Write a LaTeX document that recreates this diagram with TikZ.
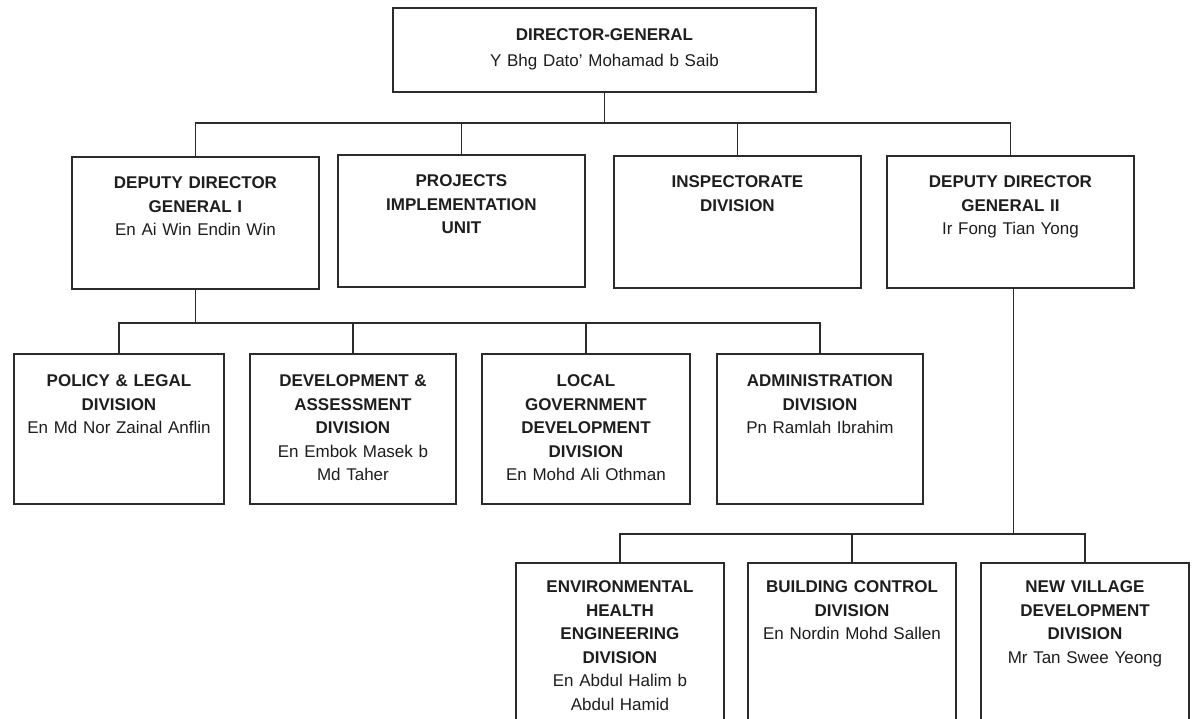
\documentclass[tikz,border=0pt]{standalone}
\usepackage{fontspec}
\usetikzlibrary{calc}
\setmainfont{Liberation Sans}
\definecolor{linecol}{HTML}{2B2B2B}
\definecolor{inkcol}{HTML}{1E1E1E}
\newcommand\hd[1]{\textbf{#1}}
\begin{document}
\begin{tikzpicture}[x=1pt, y=-1pt,
  unit/.style={draw=linecol, line width=1.9pt, fill=white, inner sep=0pt,
    anchor=north west, align=center, text=inkcol,
    font=\fontsize{17}{23.5}\selectfont},
  headbox/.style={unit, text width=423pt, text height=33pt, text depth=51pt,
    font=\fontsize{17}{26}\selectfont},
  toprow/.style={unit, text width=247pt, text height=32pt, text depth=100pt},
  divrow/.style={unit, text height=33pt, text depth=117pt},
  subrow/.style={unit, text width=208pt, text height=30pt, text depth=200pt},
  link/.style={draw=linecol, line width=1.6pt}
]
\fill[white] (0,0) rectangle (1192,718);
\clip (0,0) rectangle (1192,718);

% director-general
\node[headbox] (dg) at (392,7) {\hd{DIRECTOR-GENERAL}\\Y Bhg Dato' Mohamad b Saib};

% first level
\node[toprow] (ddg1) at (71,156)  {\hd{DEPUTY DIRECTOR}\\\hd{GENERAL I}\\En Ai Win Endin Win};
\node[toprow] (piu)  at (337,154) {\hd{PROJECTS}\\\hd{IMPLEMENTATION}\\\hd{UNIT}};
\node[toprow] (insp) at (613,155) {\hd{INSPECTORATE}\\\hd{DIVISION}};
\node[toprow] (ddg2) at (886,155) {\hd{DEPUTY DIRECTOR}\\\hd{GENERAL II}\\Ir Fong Tian Yong};

% divisions under DDG I
\node[divrow, text width=210pt] (policy) at (13,353)  {\hd{POLICY \& LEGAL}\\\hd{DIVISION}\\En Md Nor Zainal Anflin};
\node[divrow, text width=206pt] (devas)  at (249,353) {\hd{DEVELOPMENT \&}\\\hd{ASSESSMENT}\\\hd{DIVISION}\\En Embok Masek b\\Md Taher};
\node[divrow, text width=208pt] (local)  at (481,353) {\hd{LOCAL}\\\hd{GOVERNMENT}\\\hd{DEVELOPMENT}\\\hd{DIVISION}\\En Mohd Ali Othman};
\node[divrow, text width=206pt] (admin)  at (716,353) {\hd{ADMINISTRATION}\\\hd{DIVISION}\\Pn Ramlah Ibrahim};

% divisions under DDG II
\node[subrow] (envh)  at (515,562) {\hd{ENVIRONMENTAL}\\\hd{HEALTH}\\\hd{ENGINEERING}\\\hd{DIVISION}\\En Abdul Halim b\\Abdul Hamid};
\node[subrow] (bldg)  at (747,562) {\hd{BUILDING CONTROL}\\\hd{DIVISION}\\En Nordin Mohd Sallen};
\node[subrow] (village) at (980,562) {\hd{NEW VILLAGE}\\\hd{DEVELOPMENT}\\\hd{DIVISION}\\Mr Tan Swee Yeong};

% bus lines, each level hanging from its parent box
\coordinate (bus1) at ($(dg.south)+(0,30)$);
\coordinate (bus2) at ($(ddg1.south)+(0,33)$);
\coordinate (bus3) at ($(ddg2.south)+(3,245)$);

\draw[link] (dg.south) -- (bus1);
\draw[link] (ddg1.north) |- (bus1) -| (ddg2.north);
\draw[link] (piu.north) -- (piu.north |- bus1);
\draw[link] (insp.north) -- (insp.north |- bus1);

\draw[link] (ddg1.south) -- (bus2);
\draw[link] (policy.north) |- (bus2) -| (admin.north);
\draw[link] (devas.north) -- (devas.north |- bus2);
\draw[link] (local.north) -- (local.north |- bus2);

\draw[link] (ddg2.south -| bus3) -- (bus3);
\draw[link] (envh.north) |- (bus3) -| (village.north);
\draw[link] (bldg.north) -- (bldg.north |- bus3);
\end{tikzpicture}
\end{document}
